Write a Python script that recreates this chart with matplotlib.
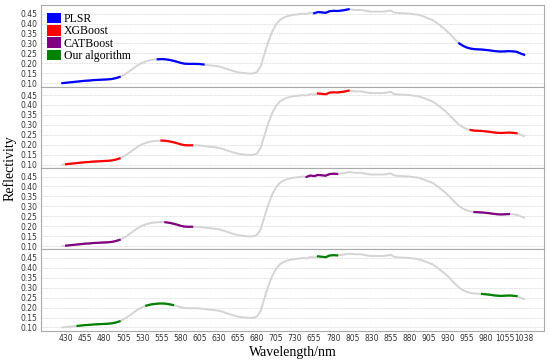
import numpy as np
import matplotlib
matplotlib.use('Agg')
import matplotlib.pyplot as plt
from matplotlib.patches import Patch

# spectrum (nm, reflectivity)
wavelength = list(range(425, 1031, 5))
reflect = [
    0.100, 0.102, 0.104, 0.106, 0.108, 0.110, 0.112, 0.113, 0.115, 0.116,
    0.117, 0.118, 0.119, 0.121, 0.125, 0.131, 0.140, 0.152, 0.166, 0.180,
    0.193, 0.203, 0.210, 0.215, 0.218, 0.220, 0.221, 0.220, 0.217, 0.213,
    0.208, 0.202, 0.198, 0.197, 0.197, 0.197, 0.196, 0.194, 0.191, 0.189,
    0.187, 0.184, 0.179, 0.172, 0.166, 0.160, 0.155, 0.152, 0.150, 0.148,
    0.149, 0.156, 0.185, 0.250, 0.310, 0.360, 0.395, 0.418, 0.430, 0.437,
    0.442, 0.445, 0.447, 0.450, 0.448, 0.455, 0.452, 0.458, 0.456, 0.454,
    0.462, 0.464, 0.463, 0.465, 0.468, 0.472, 0.470, 0.468, 0.469, 0.466,
    0.462, 0.460, 0.460, 0.460, 0.460, 0.462, 0.466, 0.455, 0.453, 0.452,
    0.451, 0.450, 0.447, 0.445, 0.440, 0.433, 0.425, 0.418, 0.405, 0.390,
    0.375, 0.358, 0.338, 0.318, 0.300, 0.288, 0.279, 0.274, 0.271, 0.270,
    0.269, 0.267, 0.265, 0.262, 0.260, 0.259, 0.260, 0.261, 0.260, 0.258,
    0.250, 0.243,
]

models = ['PLSR', 'XGBoost', 'CATBoost', 'Our algorithm']
colors = ['#0000ff', '#ff0000', '#800080', '#008000']

# selected bands (nm ranges) per model
bands_plsr = [(425, 500), (550, 610), (755, 800), (945, 1030)]
bands_xgb = [(430, 500), (555, 595), (760, 800), (960, 1020)]
bands_cat = [(430, 500), (560, 595), (745, 785), (965, 1010)]
bands_ours = [(445, 500), (535, 570), (760, 785), (975, 1020)]
all_bands = [bands_plsr, bands_xgb, bands_cat, bands_ours]

tick_pos = list(range(430, 1031, 25))
tick_labels = ['430', '455', '480', '505', '530', '555', '580', '605', '630',
               '655', '680', '705', '730', '655', '780', '805', '830', '855',
               '880', '905', '930', '955', '980', '1055', '1038']
yticks = [0.10, 0.15, 0.20, 0.25, 0.30, 0.35, 0.40, 0.45]

wl = np.array(wavelength)
rf = np.array(reflect)

fig, axes = plt.subplots(4, 1, figsize=(5.5, 3.62), dpi=100, sharex=True)
fig.subplots_adjust(left=0.0745, right=0.989, top=0.986, bottom=0.086, hspace=0)

for ax, bands, col in zip(axes, all_bands, colors):
    ax.plot(wl, rf, color='#d4d4d4', lw=1.4, zorder=2)
    for lo, hi in bands:
        m = (wl >= lo) & (wl <= hi)
        ax.plot(wl[m], rf[m], color=col, lw=1.6, zorder=3)
    ax.set_xlim(397, 1056)
    ax.set_ylim(0.083, 0.493)
    ax.set_yticks(yticks)
    ax.set_yticklabels(['%.2f' % v for v in yticks])
    ax.grid(axis='y', color='#dddddd', ls=(0, (2, 1)), lw=0.6)
    ax.set_axisbelow(True)
    ax.tick_params(length=0, labelsize=5.5, pad=2.5, colors='#333333')
    for s in ax.spines.values():
        s.set_color('#aaaaaa')
        s.set_linewidth(0.8)

axes[-1].set_xticks(tick_pos)
axes[-1].set_xticklabels(tick_labels)
axes[-1].set_xlabel('Wavelength/nm', family='Liberation Serif', fontsize=10, labelpad=2)
fig.text(0.018, 0.536, 'Reflectivity', rotation=90, family='Liberation Serif',
         fontsize=10, ha='center', va='center')

handles = [Patch(facecolor=c, edgecolor='none') for c in colors]
axes[0].legend(handles, models, loc='upper left', bbox_to_anchor=(0.012, 0.905),
               frameon=False, borderpad=0, borderaxespad=0, labelspacing=0,
               handlelength=1.2, handleheight=1.0, handletextpad=0.2,
               prop={'family': 'Liberation Serif', 'size': 8.5})

fig.savefig('out.png', dpi=100)
